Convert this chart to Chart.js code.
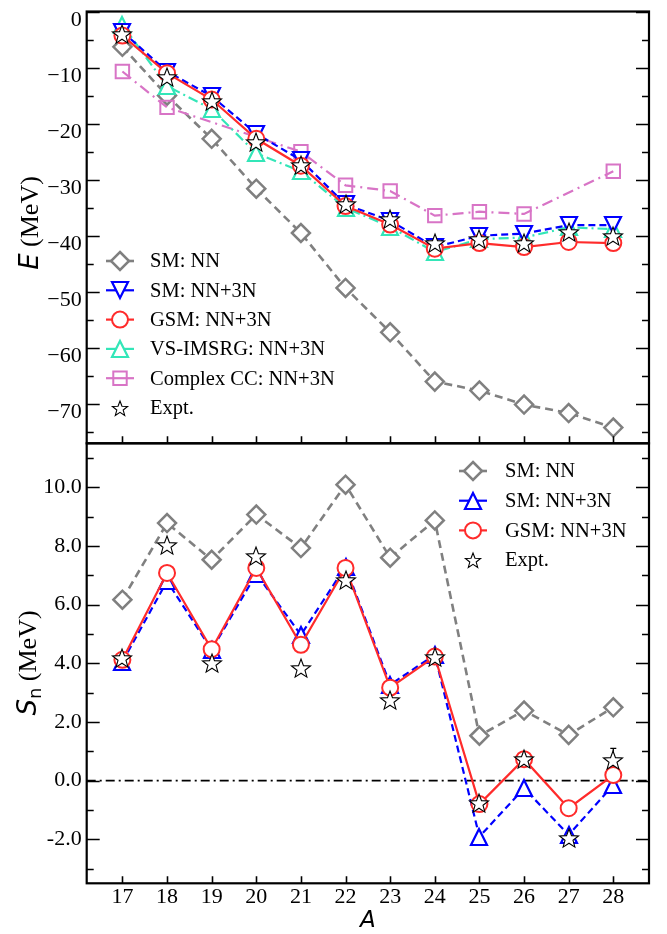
<!DOCTYPE html>
<html>
<head>
<meta charset="utf-8">
<script src="https://cdn.jsdelivr.net/npm/chart.js@4.4.0/dist/chart.umd.min.js"></script>
<style>
html, body { margin: 0; padding: 0; background: #fff; }
#wrap { position: relative; width: 667px; height: 934px; }
canvas { position: absolute; left: 0; top: 0; }
</style>
</head>
<body>
<div id="wrap">
  <canvas id="chartSn" width="667" height="934"></canvas>
  <canvas id="chartE" width="667" height="934"></canvas>
</div>
<script>
// mass numbers A
var massNumbers = [17, 18, 19, 20, 21, 22, 23, 24, 25, 26, 27, 28];

// top panel: ground state energies E (MeV)
var eSmNN    = [-6.3, -15.0, -22.7, -31.6, -39.5, -49.3, -57.2, -66.0, -67.6, -70.1, -71.6, -74.2];
var eSm3N    = [-3.6, -10.7, -15.1, -21.8, -26.5, -34.4, -37.3, -42.0, -40.0, -39.6, -38.1, -38.1];
var eGsm3N   = [-4.3, -11.0, -15.7, -22.7, -27.5, -34.7, -38.0, -42.3, -41.3, -42.0, -41.1, -41.3];
var eVs3N    = [-2.4, -13.3, -17.4, -25.3, -28.5, -35.0, -38.4, -42.9, -40.6, -40.3, -38.5, -38.8];
var eCc3N    = [-10.7, -17.1, null, null, -25.0, -31.0, -32.0, -36.4, -35.7, -36.1, null, -28.5];
var eExpt    = [-4.0, -11.6, -16.0, -23.3, -27.4, -34.4, -37.0, -41.3, -40.5, -41.3, -39.4, -40.0];

// bottom panel: one-neutron separation energies Sn (MeV)
var snSmNN   = [6.17, 8.78, 7.53, 9.07, 7.93, 10.09, 7.60, 8.87, 1.53, 2.39, 1.56, 2.50];
var snSm3N   = [4.05, 6.80, 4.46, 7.05, 4.97, 7.30, 3.27, 4.29, -1.91, -0.26, -1.85, -0.15];
var snGsm3N  = [4.12, 7.08, 4.48, 7.25, 4.63, 7.25, 3.17, 4.23, -0.80, 0.73, -0.94, 0.19];
var snExpt   = [4.18, 8.04, 4.00, 7.65, 3.84, 6.85, 2.75, 4.23, -0.77, 0.74, -1.97, 0.70];
var snExptErr = [0, 0, 0, 0, 0, 0, 0, 0, 0, 0, 0.12, 0.40];

// axes
var xMin = 16.2, xMax = 28.8;
var eMin = -77, eMax = 0;
var eTicks = [-70, -60, -50, -40, -30, -20, -10, 0];
var eTickLabels = ['\u221270', '\u221260', '\u221250', '\u221240', '\u221230', '\u221220', '\u221210', '0'];
var eMinorTicks = [-75, -65, -55, -45, -35, -25, -15, -5];
var snMin = -3.5, snMax = 11.5;
var snTicks = [-2, 0, 2, 4, 6, 8, 10];
var snTickLabels = ['-2.0', '0.0', '2.0', '4.0', '6.0', '8.0', '10.0'];
var snMinorTicks = [-3, -1, 1, 3, 5, 7, 9, 11];

var SERIF = '"Liberation Serif", "Times New Roman", serif';
var SANS = '"DejaVu Sans", sans-serif';

var cGray = '#808080', cBlue = '#0000ff', cRed = '#ff2b2b', cCyan = '#33e6b8', cPink = '#d874c6';

// star marker (5 points, white face)
function makeStar(r, lw) {
  var s = Math.ceil(2 * r + 2 * lw + 2);
  if (s % 2) s++;
  var c = document.createElement('canvas');
  c.width = s; c.height = s;
  var g = c.getContext('2d');
  g.beginPath();
  for (var i = 0; i < 10; i++) {
    var rr = i % 2 ? r * 0.42 : r;
    var a = -Math.PI / 2 + i * Math.PI / 5;
    g.lineTo(s / 2 + rr * Math.cos(a), s / 2 + 1 + rr * Math.sin(a));
  }
  g.closePath();
  g.fillStyle = '#fff';
  g.fill();
  g.lineWidth = lw;
  g.strokeStyle = '#000';
  g.stroke();
  return c;
}

// matplotlib style triangle: as tall as wide, centred on its box
function makeTri(color, h, up) {
  var s = 2 * h + 6;
  var c = document.createElement('canvas');
  c.width = s; c.height = s;
  var g = c.getContext('2d');
  var m = s / 2, d = up ? 1 : -1;
  g.beginPath();
  g.moveTo(m, m - d * h);
  g.lineTo(m + h, m + d * h);
  g.lineTo(m - h, m + d * h);
  g.closePath();
  g.fillStyle = '#fff';
  g.fill();
  g.lineWidth = 2.2;
  g.lineJoin = 'miter';
  g.strokeStyle = color;
  g.stroke();
  return c;
}

var starImg = makeStar(10, 1.1);
var starLegendImg = makeStar(8, 1.1);
var triBlueDown = makeTri(cBlue, 8, false);
var triBlueUp = makeTri(cBlue, 8, true);
var triCyanUp = makeTri(cCyan, 8, true);

function pts(ys) {
  return massNumbers.map(function (x, i) { return { x: x, y: ys[i] }; });
}

// legend marker for the hand drawn legends
function drawMarker(ctx, ds, x, y) {
  var st = ds.pointStyle;
  if (st instanceof HTMLCanvasElement) {
    if (st === starImg) st = starLegendImg;
    ctx.drawImage(st, Math.round(x - st.width / 2), Math.round(y - st.height / 2));
    return;
  }
  ctx.save();
  ctx.lineWidth = ds.pointBorderWidth;
  ctx.strokeStyle = ds.pointBorderColor;
  ctx.fillStyle = ds.pointBackgroundColor;
  var r = ds.pointRadius;
  ctx.beginPath();
  if (st === 'rectRot') {
    ctx.moveTo(x, y - r); ctx.lineTo(x + r, y); ctx.lineTo(x, y + r); ctx.lineTo(x - r, y); ctx.closePath();
  } else if (st === 'rect') {
    var h = r * Math.SQRT1_2;
    ctx.rect(x - h, y - h, 2 * h, 2 * h);
  } else if (st === 'circle') {
    ctx.arc(x, y, r, 0, Math.PI * 2);
  }
  ctx.fill();
  ctx.stroke();
  ctx.restore();
}

var panelPlugin = {
  id: 'panel',
  beforeDatasetsDraw: function (chart, args, o) {
    var ctx = chart.ctx, xs = chart.scales.x, ys = chart.scales.y;
    // keep the image markers crisp
    ctx.imageSmoothingEnabled = false;
    if (!o.errors) return;
    ctx.save();
    ctx.strokeStyle = '#000';
    ctx.lineWidth = 1.3;
    o.errors.forEach(function (e, i) {
      if (!e) return;
      var px = xs.getPixelForValue(massNumbers[i]);
      var top = ys.getPixelForValue(o.errorBase[i] + e);
      var bot = ys.getPixelForValue(o.errorBase[i] - e);
      ctx.beginPath();
      ctx.moveTo(px, top); ctx.lineTo(px, bot);
      ctx.moveTo(px - 3, top); ctx.lineTo(px + 3, top);
      ctx.moveTo(px - 3, bot); ctx.lineTo(px + 3, bot);
      ctx.stroke();
    });
    ctx.restore();
  },
  afterDatasetsDraw: function (chart, args, o) {
    var ctx = chart.ctx, a = chart.chartArea, xs = chart.scales.x, ys = chart.scales.y;
    ctx.imageSmoothingEnabled = true;
    ctx.save();
    ctx.strokeStyle = '#000';
    ctx.lineWidth = 1.6;
    ctx.beginPath();
    o.major.forEach(function (v) {
      var p = Math.round(ys.getPixelForValue(v)) + 0.5;
      ctx.moveTo(a.left, p); ctx.lineTo(a.left + 13, p);
      ctx.moveTo(a.right, p); ctx.lineTo(a.right - 13, p);
    });
    o.minor.forEach(function (v) {
      var p = Math.round(ys.getPixelForValue(v)) + 0.5;
      ctx.moveTo(a.left, p); ctx.lineTo(a.left + 7, p);
      ctx.moveTo(a.right, p); ctx.lineTo(a.right - 7, p);
    });
    massNumbers.forEach(function (v) {
      var p = Math.round(xs.getPixelForValue(v)) + 0.5;
      ctx.moveTo(p, a.bottom); ctx.lineTo(p, a.bottom - 7);
    });
    ctx.stroke();
    ctx.lineWidth = 2.2;
    ctx.strokeRect(a.left, a.top, a.right - a.left, a.bottom - a.top);
    ctx.restore();
  },
  afterDraw: function (chart, args, o) {
    var ctx = chart.ctx;
    // y axis title, rotated, mixed fonts
    ctx.save();
    ctx.translate(o.titleX, o.titleY);
    ctx.rotate(-Math.PI / 2);
    ctx.fillStyle = '#000';
    ctx.textBaseline = 'alphabetic';
    ctx.textAlign = 'left';
    var total = 0;
    o.title.forEach(function (p) { ctx.font = p.font; p.w = ctx.measureText(p.text).width; total += p.w; });
    var tx = -total / 2;
    o.title.forEach(function (p) { ctx.font = p.font; ctx.fillText(p.text, tx, p.dy || 0); tx += p.w; });
    ctx.restore();

    if (o.xTitle) {
      ctx.save();
      ctx.fillStyle = '#000';
      ctx.font = 'italic 23px ' + SANS;
      ctx.textAlign = 'center';
      ctx.textBaseline = 'alphabetic';
      ctx.fillText(o.xTitle, (chart.chartArea.left + chart.chartArea.right) / 2, 927);
      ctx.restore();
    }

    // legend
    var L = o.legend;
    ctx.save();
    chart.data.datasets.forEach(function (ds) {
      if (!ds.label) return;
      var i = L.order.indexOf(ds.label);
      if (i < 0) return;
      var y = L.y0 + i * L.dy;
      if (ds.showLine !== false) {
        ctx.strokeStyle = ds.borderColor;
        ctx.lineWidth = ds.borderWidth;
        ctx.setLineDash([]);
        ctx.beginPath();
        ctx.moveTo(L.x - 14, y); ctx.lineTo(L.x + 14, y);
        ctx.stroke();
      }
      drawMarker(ctx, ds, L.x, y);
      ctx.fillStyle = '#000';
      ctx.font = '20.5px ' + SERIF;
      ctx.textAlign = 'left';
      ctx.textBaseline = 'middle';
      ctx.fillText(ds.label, L.textX, y + 1);
    });
    ctx.restore();
  }
};

function lineSet(label, data, color, dash, width, style, radius, opts) {
  var ds = {
    label: label,
    data: data,
    borderColor: color,
    borderWidth: width,
    borderDash: dash,
    pointStyle: style,
    pointRadius: radius,
    pointBorderColor: color,
    pointBorderWidth: 2,
    pointBackgroundColor: '#fff',
    spanGaps: true,
    tension: 0
  };
  for (var k in opts) ds[k] = opts[k];
  return ds;
}

function exptSet(data) {
  return { label: 'Expt.', data: data, showLine: false, pointStyle: starImg, pointRadius: 9, order: 0 };
}

function baseOptions(yMin, yMax, yTicks, yLabel, padTop, padBottom, showX) {
  var xHeight = showX ? 40 : 0;
  return {
    responsive: false,
    animation: false,
    devicePixelRatio: 1,
    events: [],
    layout: { padding: { left: 0, right: 18, top: padTop, bottom: padBottom - xHeight } },
    plugins: { legend: { display: false }, tooltip: { enabled: false } },
    scales: {
      x: {
        type: 'linear', min: xMin, max: xMax, display: showX,
        grid: { display: false, drawTicks: false },
        border: { display: false },
        afterBuildTicks: function (s) { s.ticks = massNumbers.map(function (v) { return { value: v }; }); },
        afterFit: function (s) { s.height = xHeight; s.paddingLeft = 0; s.paddingRight = 0; },
        ticks: {
          padding: 1, color: '#000', maxRotation: 0, autoSkip: false,
          font: { family: SERIF, size: 22, lineHeight: 1.2 },
          callback: function (v) { return String(v); }
        }
      },
      y: {
        type: 'linear', min: yMin, max: yMax,
        grid: { display: false, drawTicks: false },
        border: { display: false },
        afterBuildTicks: function (s) { s.ticks = yTicks.map(function (v) { return { value: v }; }); },
        afterFit: function (s) { s.width = 86.7; s.paddingTop = 0; s.paddingBottom = 0; },
        ticks: yLabel
      }
    }
  };
}

// ---- top panel: E ----
var optE = baseOptions(eMin, eMax, eTicks, {
  padding: 5, color: '#000', autoSkip: false,
  font: { family: SERIF, size: 22, lineHeight: '17px' },
  callback: function (v, i) { return ['', eTickLabels[i]]; }
}, 3.3, 934 - 443.3, false);
optE.plugins.panel = {
  major: eTicks, minor: eMinorTicks,
  titleX: 38, titleY: 223,
  title: [
    { text: 'E', font: 'italic 26px ' + SANS },
    { text: ' (MeV)', font: '26px ' + SERIF }
  ],
  legend: { x: 120, textX: 150, y0: 261, dy: 29.3,
    order: ['SM: NN', 'SM: NN+3N', 'GSM: NN+3N', 'VS-IMSRG: NN+3N', 'Complex CC: NN+3N', 'Expt.'] }
};

new Chart(document.getElementById('chartE'), {
  type: 'line',
  data: {
    datasets: [
      exptSet(pts(eExpt)),
      lineSet('GSM: NN+3N', pts(eGsm3N), cRed, [], 2.2, 'circle', 8, { order: 1 }),
      lineSet('SM: NN+3N', pts(eSm3N), cBlue, [7, 4], 2.2, triBlueDown, 9, { order: 2 }),
      lineSet('VS-IMSRG: NN+3N', pts(eVs3N), cCyan, [10, 4, 2, 4], 2.2, triCyanUp, 9, { order: 3 }),
      lineSet('Complex CC: NN+3N', pts(eCc3N), cPink, [11, 5, 2, 5], 2.2, 'rect', 9.5, { order: 4, pointBackgroundColor: 'rgba(0,0,0,0)' }),
      lineSet('SM: NN', pts(eSmNN), cGray, [8, 5], 2.6, 'rectRot', 9, { order: 5, pointBorderWidth: 2.5 })
    ]
  },
  options: optE,
  plugins: [panelPlugin]
});

// ---- bottom panel: Sn ----
var optSn = baseOptions(snMin, snMax, snTicks, {
  padding: 5, color: '#000', autoSkip: false,
  font: { family: SERIF, size: 22, lineHeight: 1.2 },
  callback: function (v, i) { return snTickLabels[i]; }
}, 443.3, 934 - 883.3, true);
optSn.plugins.panel = {
  major: snTicks, minor: snMinorTicks,
  errors: snExptErr, errorBase: snExpt,
  titleX: 36, titleY: 663,
  title: [
    { text: 'S', font: 'italic 26px ' + SANS },
    { text: 'n', font: '18px ' + SANS, dy: 5 },
    { text: ' (MeV)', font: '26px ' + SERIF }
  ],
  xTitle: 'A',
  legend: { x: 473, textX: 505, y0: 471, dy: 29.7,
    order: ['SM: NN', 'SM: NN+3N', 'GSM: NN+3N', 'Expt.'] }
};

new Chart(document.getElementById('chartSn'), {
  type: 'line',
  data: {
    datasets: [
      exptSet(pts(snExpt)),
      lineSet('GSM: NN+3N', pts(snGsm3N), cRed, [], 2.2, 'circle', 8, { order: 1 }),
      lineSet('SM: NN+3N', pts(snSm3N), cBlue, [7, 4], 2.2, triBlueUp, 9, { order: 2 }),
      lineSet('SM: NN', pts(snSmNN), cGray, [8, 5], 2.6, 'rectRot', 9, { order: 5, pointBorderWidth: 2.5 }),
      {
        label: '', data: [{ x: xMin, y: 0 }, { x: xMax, y: 0 }],
        borderColor: '#000', borderWidth: 1.6, borderDash: [9, 4, 2, 4],
        pointRadius: 0, order: 10
      }
    ]
  },
  options: optSn,
  plugins: [panelPlugin]
});
</script>
</body>
</html>
